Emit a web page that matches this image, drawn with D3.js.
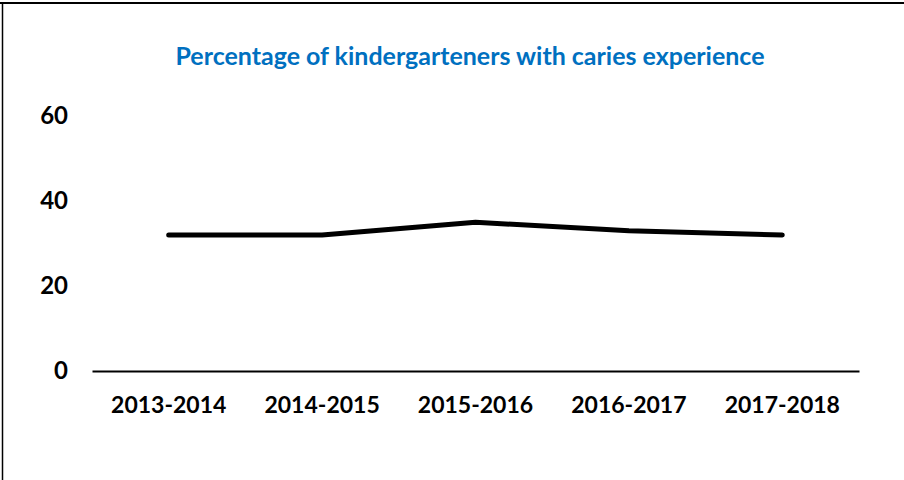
<!DOCTYPE html>
<html>
<head>
<meta charset="utf-8">
<script src="https://cdn.jsdelivr.net/npm/d3@7"></script>
<style>
  html, body { margin: 0; padding: 0; background: #fff; }
  svg { display: block; }
  text { font-family: Lato, "Open Sans", sans-serif; font-weight: bold; }
</style>
</head>
<body>
<svg id="chart" width="904" height="480"></svg>
<script>
const title = "Percentage of kindergarteners with caries experience";
const categories = ["2013-2014", "2014-2015", "2015-2016", "2016-2017", "2017-2018"];
const values = [32, 32, 35, 33, 32];
const yTicks = [0, 20, 40, 60];

const svg = d3.select("#chart");

// border (top and left)
svg.append("line").attr("x1", 0).attr("x2", 904).attr("y1", 3).attr("y2", 3)
  .attr("stroke", "#000").attr("stroke-width", 2);
svg.append("line").attr("x1", 2.5).attr("x2", 2.5).attr("y1", 2).attr("y2", 480)
  .attr("stroke", "#000").attr("stroke-width", 1.5);

const x = d3.scaleBand().domain(categories).range([92, 859]);
const y = d3.scaleLinear().domain([0, 60]).range([371, 116]);

svg.append("text")
  .attr("x", 470).attr("y", 65)
  .attr("text-anchor", "middle")
  .attr("fill", "#0070C0")
  .style("font-size", "25px")
  .attr("textLength", 589)
  .attr("lengthAdjust", "spacingAndGlyphs")
  .text(title);

// y axis labels
const yAxis = d3.axisLeft(y).tickValues(yTicks).tickSize(0).tickPadding(0);
const yg = svg.append("g").attr("transform", "translate(68,0)").call(yAxis);
yg.select(".domain").remove();
yg.selectAll("text").attr("fill", "#000").style("font-size", "24px")
  .style("font-family", "Lato, sans-serif").style("font-weight", "bold");

// x axis
const xAxis = d3.axisBottom(x).tickSize(0).tickPadding(0);
const xg = svg.append("g").attr("transform", `translate(0,${y(0)})`).call(xAxis);
xg.select(".domain").attr("stroke", "#000").attr("stroke-width", 2);
xg.selectAll("text").attr("fill", "#000").attr("dy", "0").attr("y", 42)
  .style("font-size", "23px")
  .style("font-family", "Lato, sans-serif").style("font-weight", "bold");

// line
const line = d3.line()
  .x((d, i) => x(categories[i]) + x.bandwidth() / 2)
  .y(d => y(d));

svg.append("path")
  .datum(values)
  .attr("d", line)
  .attr("fill", "none")
  .attr("stroke", "#000")
  .attr("stroke-width", 5)
  .attr("stroke-linecap", "round")
  .attr("stroke-linejoin", "round");
</script>
</body>
</html>
